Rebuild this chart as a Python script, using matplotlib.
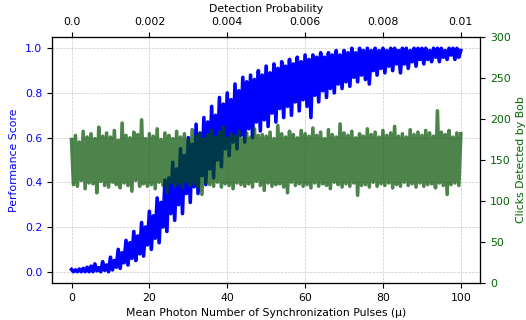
import numpy as np
import matplotlib
matplotlib.use('Agg')
import matplotlib.pyplot as plt

# mean photon number, sampled every half unit
mu = np.arange(0, 100.5, 0.5)

perf_score = [
    0.01, 0.0, 0.008, 0.0, 0.012, 0.0, 0.015, 0.0, 0.02, 0.0,
    0.025, 0.0, 0.035, 0.004, 0.018, 0.0, 0.045, 0.006, 0.03, 0.0,
    0.065, 0.008, 0.05, 0.02, 0.1, 0.015, 0.085, 0.04, 0.14, 0.03,
    0.13, 0.06, 0.18, 0.05, 0.16, 0.08, 0.22, 0.07, 0.2, 0.12,
    0.27, 0.1, 0.25, 0.15, 0.33, 0.13, 0.31, 0.2, 0.41, 0.18,
    0.42, 0.26, 0.49, 0.23, 0.46, 0.3, 0.55, 0.26, 0.52, 0.35,
    0.6, 0.31, 0.57, 0.38, 0.66, 0.35, 0.62, 0.43, 0.69, 0.39,
    0.67, 0.46, 0.74, 0.42, 0.7, 0.5, 0.78, 0.47, 0.75, 0.55,
    0.8, 0.52, 0.77, 0.58, 0.84, 0.55, 0.81, 0.61, 0.87, 0.58,
    0.85, 0.64, 0.88, 0.6, 0.86, 0.67, 0.9, 0.63, 0.88, 0.68,
    0.92, 0.65, 0.89, 0.71, 0.93, 0.67, 0.91, 0.73, 0.94, 0.69,
    0.92, 0.74, 0.95, 0.7, 0.93, 0.76, 0.96, 0.72, 0.94, 0.77,
    0.97, 0.74, 0.95, 0.69, 0.97, 0.79, 0.96, 0.76, 0.98, 0.81,
    0.96, 0.78, 0.98, 0.82, 0.97, 0.8, 0.99, 0.84, 0.97, 0.82,
    0.99, 0.85, 0.98, 0.83, 1.0, 0.87, 0.98, 0.85, 1.0, 0.88,
    0.99, 0.86, 1.0, 0.84, 0.99, 0.9, 1.0, 0.88, 0.99, 0.91,
    1.0, 0.89, 0.99, 0.92, 1.0, 0.9, 1.0, 0.93, 0.99, 0.89,
    1.0, 0.93, 1.0, 0.91, 0.99, 0.94, 1.0, 0.92, 1.0, 0.95,
    1.0, 0.93, 1.0, 0.95, 0.99, 0.94, 1.0, 0.96, 1.0, 0.94,
    1.0, 0.96, 0.99, 0.95, 1.0, 0.97, 1.0, 0.95, 1.0, 0.96,
    0.99,
]

clicks_bob = [
    175, 120, 180, 118, 172, 125, 185, 115, 178, 122,
    182, 121, 176, 110, 190, 124, 179, 119, 183, 117,
    178, 123, 186, 120, 174, 116, 195, 122, 180, 119,
    177, 112, 184, 125, 181, 118, 199, 121, 176, 118,
    182, 120, 179, 115, 188, 123, 175, 119, 183, 110,
    180, 122, 176, 118, 185, 121, 178, 116, 182, 124,
    174, 119, 187, 121, 179, 117, 183, 108, 176, 122,
    181, 120, 186, 118, 178, 123, 184, 117, 190, 121,
    177, 119, 182, 115, 179, 122, 185, 120, 176, 118,
    183, 121, 178, 117, 188, 124, 180, 119, 181, 113,
    179, 122, 184, 118, 176, 120, 192, 121, 182, 117,
    178, 110, 185, 123, 181, 119, 177, 121, 186, 118,
    182, 120, 179, 116, 189, 122, 180, 118, 184, 121,
    176, 119, 187, 115, 181, 123, 178, 120, 194, 117,
    183, 121, 180, 118, 185, 122, 177, 107, 182, 119,
    179, 120, 188, 117, 181, 123, 184, 118, 178, 121,
    186, 119, 180, 122, 183, 116, 191, 120, 179, 118,
    182, 123, 178, 119, 187, 121, 181, 117, 184, 122,
    180, 118, 186, 120, 183, 121, 179, 116, 210, 122,
    184, 119, 181, 108, 186, 120, 178, 122, 183, 119,
    182,
]

top_ticks = [0, 20, 40, 60, 80, 100]
top_labels = ['0.0', '0.002', '0.004', '0.006', '0.008', '0.01']

plt.rcParams['font.size'] = 7.8

fig, ax = plt.subplots(figsize=(5.26, 3.2), dpi=100)
fig.subplots_adjust(left=0.099, right=0.913, bottom=0.116, top=0.884)

ax.plot(mu, perf_score, color='blue', linewidth=2.6)
ax.set_xlabel('Mean Photon Number of Synchronization Pulses (μ)')
ax.set_ylabel('Performance Score', color='blue')
ax.tick_params(axis='y', labelcolor='blue')
ax.set_xlim(-5, 105)
ax.set_ylim(-0.05, 1.05)
ax.grid(True, linestyle='--', linewidth=0.5, alpha=0.7)

ax2 = ax.twinx()
ax2.plot(mu, clicks_bob, color='#005000', linewidth=2.6, alpha=0.7)
ax2.set_ylabel('Clicks Detected by Bob', color='darkgreen')
ax2.tick_params(axis='y', labelcolor='darkgreen')
ax2.set_ylim(0, 300)

ax3 = ax.twiny()
ax3.set_xlim(ax.get_xlim())
ax3.set_xticks(top_ticks)
ax3.set_xticklabels(top_labels)
ax3.set_xlabel('Detection Probability')

fig.savefig('out.png')
